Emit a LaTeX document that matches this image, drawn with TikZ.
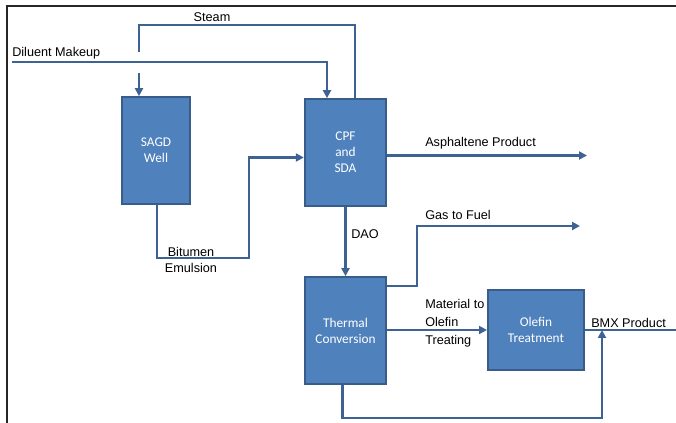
\documentclass[tikz,border=0pt]{standalone}
\usepackage{fontspec}
\setmainfont{Liberation Sans}
\newfontfamily\boxfont{Carlito}
\usetikzlibrary{arrows.meta,calc,positioning}
\definecolor{unitfill}{RGB}{79,129,189}
\definecolor{unitline}{RGB}{56,93,138}
\definecolor{flowline}{RGB}{62,98,148}

\begin{document}
\begin{tikzpicture}[x=0.75pt,y=-0.75pt,
   unit/.style={draw=unitline,line width=1.5pt,fill=unitfill,text=white,
     font=\boxfont\fontsize{10}{12}\selectfont,align=center,inner sep=0pt},
   pipe/.style={draw=flowline,line width=1.8pt},
   flow/.style={pipe,-{Triangle[length=6pt,width=6pt]}},
   lbl/.style={font=\fontsize{9.5}{12}\selectfont,inner sep=0pt}]
   \useasboundingbox (0,0) rectangle (676,423);
   % frame
   \draw[line width=1.5pt,black!85] (7,423) -- (7,6) -- (676,6);
   % units
   \node[unit,minimum width=51pt,minimum height=80pt] (sagd) at (156,150.5) {SAGD\\Well};
   \node[unit,minimum width=61pt,minimum height=80pt] (cpf) at (345.5,152.5) {CPF\\and\\SDA};
   \node[unit,minimum width=61pt,minimum height=80pt] (therm) at (345.5,330.5) {Thermal\\Conversion};
   \node[unit,minimum width=72pt,minimum height=60pt] (olefin) at (536,330) {Olefin\\Treatment};
   % free ends
   \coordinate (dilin) at (12,62);
   \coordinate (steamcorner) at (139,25);
   \coordinate (steamgap) at (139,52);
   \coordinate (steamjump) at (139,73);
   \coordinate (bitturn) at (249,258);
   \coordinate (asphout) at (587,155.5);
   \coordinate (gasup) at (417,226);
   \coordinate (gasout) at (580,226);
   \coordinate (bmxout) at (676,330);
   \coordinate (bmxjoin) at (602,418);
   % streams
   \draw[flow] (dilin) -| ($(cpf.north)+(-18.5,0)$);
   \draw[pipe] ($(cpf.north)+(9.5,0)$) |- (steamcorner) -- (steamgap);
   \draw[flow] (steamjump) -- (steamjump |- sagd.north);
   \draw[flow] ($(sagd.south)+(1,0)$) |- (bitturn) |- ($(cpf.west)+(0,5)$);
   \draw[flow] (cpf.east |- asphout) -- (asphout);
   \draw[flow] (cpf.south) -- (therm.north);
   \draw[flow] ($(therm.north east)+(0,10)$) -| (gasup) -- (gasout);
   \draw[flow] (therm.east |- olefin.west) -- (olefin.west);
   \draw[pipe] (olefin.east) -- (bmxout);
   \draw[flow] ($(therm.south)+(-3,0)$) |- (bmxjoin) -- (bmxjoin |- olefin.east);
   % labels
   \node[lbl] (steamlbl) at (212,17) {Steam};
   \node[lbl,anchor=west] (dillbl) at (12,53) {Diluent Makeup};
   \node[lbl,align=center] (bitlbl) at (191,260) {Bitumen\\Emulsion};
   \node[lbl,anchor=west] (asphlbl) at (425,143) {Asphaltene Product};
   \node[lbl,anchor=west] (daolbl) at (351,234) {DAO};
   \node[lbl,anchor=west] (gaslbl) at (425,215) {Gas to Fuel};
   \node[lbl,anchor=west,align=left,font=\fontsize{9.5}{13.5}\selectfont] (matlbl) at (425,323) {Material to\\Olefin\\Treating};
   \node[lbl,anchor=west] (bmxlbl) at (591,323) {BMX Product};
\end{tikzpicture}
\end{document}
